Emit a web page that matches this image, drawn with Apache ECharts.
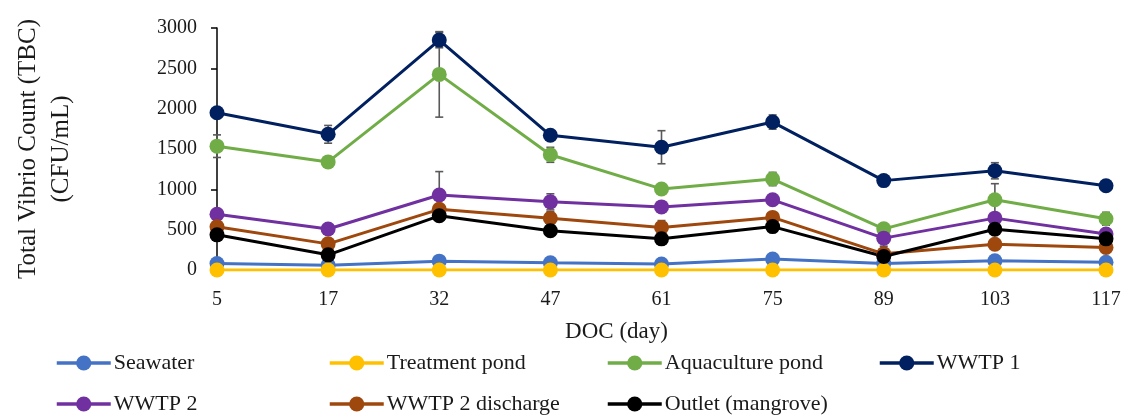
<!DOCTYPE html>
<html>
<head>
<meta charset="utf-8">
<script src="https://cdn.jsdelivr.net/npm/echarts@6/dist/echarts.min.js"></script>
<style>html,body{margin:0;padding:0;background:#fff;}#chart{width:1128px;height:415px;}</style>
</head>
<body>
<div id="chart"></div>
<script>
const categories = ['5', '17', '32', '47', '61', '75', '89', '103', '117'];
const yTicks = [0, 500, 1000, 1500, 2000, 2500, 3000];

const seawater      = [80, 60, 110, 90, 75, 135, 80, 115, 95];
const treatmentPond = [0, 0, 0, 0, 0, 0, 0, 0, 0];
const aquaculture   = [1535, 1340, 2425, 1428, 1005, 1128, 510, 870, 635];
const wwtp1         = [1950, 1682, 2850, 1670, 1522, 1834, 1108, 1230, 1045];
const wwtp2         = [692, 508, 930, 845, 782, 870, 395, 643, 445];
const wwtp2Dis      = [535, 324, 752, 642, 528, 652, 200, 320, 280];
const outlet        = [436, 188, 672, 487, 386, 538, 168, 506, 386];

// standard deviations (error bars), 0 = not drawn
const errAquaculture = [140, 0, 530, 93, 0, 82, 0, 200, 80];
const errWwtp1       = [0, 110, 95, 0, 205, 88, 0, 100, 50];
const errWwtp2       = [0, 0, 290, 100, 0, 0, 100, 0, 0];
const errWwtp2Dis    = [0, 0, 0, 80, 85, 60, 0, 0, 0];

const FONT = 'Liberation Serif';
const TXT = '#1a1a1a';

const seriesDefs = [
  { name: 'Seawater', data: seawater, color: '#4472C4' },
  { name: 'Treatment pond', data: treatmentPond, color: '#FFC000' },
  { name: 'Aquaculture pond', data: aquaculture, color: '#70AD47', err: errAquaculture },
  { name: 'WWTP 1', data: wwtp1, color: '#002060', err: errWwtp1 },
  { name: 'WWTP 2', data: wwtp2, color: '#7030A0', err: errWwtp2 },
  { name: 'WWTP 2 discharge', data: wwtp2Dis, color: '#9E480E', err: errWwtp2Dis },
  { name: 'Outlet (mangrove)', data: outlet, color: '#000000' }
];

const series = [];
seriesDefs.forEach((s) => {
  if (s.err) {
    series.push({
      type: 'custom',
      name: s.name + ' err',
      z: 1,
      silent: true,
      data: s.data.map((v, i) => [i, v, s.err[i]]),
      renderItem: function (params, api) {
        const i = api.value(0), v = api.value(1), e = api.value(2);
        if (!e) return null;
        const hi = api.coord([i, v + e]);
        const lo = api.coord([i, Math.max(0, v - e)]);
        const cap = 4;
        const st = { stroke: '#595959', lineWidth: 1.6 };
        return {
          type: 'group',
          children: [
            { type: 'line', shape: { x1: hi[0], y1: hi[1], x2: lo[0], y2: lo[1] }, style: st },
            { type: 'line', shape: { x1: hi[0] - cap, y1: hi[1], x2: hi[0] + cap, y2: hi[1] }, style: st },
            { type: 'line', shape: { x1: lo[0] - cap, y1: lo[1], x2: lo[0] + cap, y2: lo[1] }, style: st }
          ]
        };
      }
    });
  }
});
seriesDefs.forEach((s) => {
  series.push({
    type: 'line',
    name: s.name,
    data: s.data,
    z: 2,
    symbol: 'circle',
    symbolSize: 15,
    itemStyle: { color: s.color },
    lineStyle: { color: s.color, width: 3 },
    emphasis: { disabled: true },
    animation: false
  });
});

const legendPos = [
  { name: 'Seawater', left: 55, top: 354 },
  { name: 'Treatment pond', left: 328, top: 354 },
  { name: 'Aquaculture pond', left: 606, top: 354 },
  { name: 'WWTP 1', left: 878, top: 354 },
  { name: 'WWTP 2', left: 55, top: 395 },
  { name: 'WWTP 2 discharge', left: 328, top: 395 },
  { name: 'Outlet (mangrove)', left: 606, top: 395 }
];
const legends = legendPos.map((l) => ({
  data: [l.name],
  left: l.left,
  top: l.top - 2,
  padding: 0,
  itemWidth: 54,
  itemHeight: 19,
  itemGap: 0,
  selectedMode: false,
  lineStyle: { width: 3.5 },
  textStyle: { fontFamily: FONT, fontSize: 22, color: TXT, padding: [0, 0, 0, -2] }
}));

const chart = echarts.init(document.getElementById('chart'), null, { renderer: 'canvas' });
chart.setOption({
  backgroundColor: '#ffffff',
  animation: false,
  grid: { left: 217, right: 22, top: 28, bottom: 145, containLabel: false },
  legend: legends,
  xAxis: {
    type: 'category',
    data: categories,
    boundaryGap: false,
    name: 'DOC (day)',
    nameLocation: 'middle',
    nameGap: 50,
    nameTextStyle: { fontFamily: FONT, fontSize: 23, color: TXT, padding: [0, 90, 0, 0] },
    axisLine: { show: false },
    axisTick: { show: false },
    axisLabel: { fontFamily: FONT, fontSize: 20, color: TXT, margin: 20 },
    splitLine: { show: false }
  },
  yAxis: {
    type: 'value',
    min: yTicks[0],
    max: yTicks[yTicks.length - 1],
    interval: 500,
    name: 'Total Vibrio Count (TBC)\n(CFU/mL)',
    nameLocation: 'middle',
    nameGap: 139,
    nameTextStyle: { fontFamily: FONT, fontSize: 25, color: TXT, lineHeight: 33, align: 'center' },
    axisLine: { show: true, lineStyle: { color: '#000', width: 1.5 } },
    axisTick: { show: true, length: 6, lineStyle: { color: '#000', width: 1.5 } },
    axisLabel: { fontFamily: FONT, fontSize: 20, color: TXT, margin: 20, formatter: (v) => String(v) },
    splitLine: { show: false }
  },
  series: series
});
</script>
</body>
</html>
